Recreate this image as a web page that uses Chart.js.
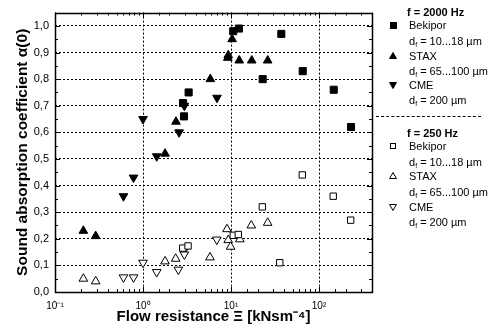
<!DOCTYPE html>
<html>
<head>
<meta charset="utf-8">
<script src="https://cdn.jsdelivr.net/npm/chart.js@4"></script>
<style>
  body { margin: 0; background: #fff; }
  #wrap { position: relative; width: 499px; height: 329px; font-family: "Liberation Sans", Arial, sans-serif; }
  #legend { position: absolute; left: 0; top: 0; width: 499px; height: 329px; pointer-events: none; }
  .row { position: absolute; left: 409px; font-size: 11px; line-height: 12px; color: #000; white-space: nowrap; transform: translateY(-50%); }
  .row.head { left: 407px; font-weight: bold; }
  .row sub { font-size: 7px; vertical-align: -2px; line-height: 0; }
  .mk { position: absolute; left: 393px; }
  .sq { width: 7px; height: 7px; margin: -3.5px 0 0 -3.5px; box-sizing: border-box; border: 1px solid #000; }
  .sq.fill { background: #000; }
  .sq.open { background: #fff; width: 6px; height: 6px; margin: -3px 0 0 -3px; }
  .hr { position: absolute; left: 376px; width: 105px; border-top: 1px dashed #000; }
</style>
</head>
<body>
<div id="wrap">
  <canvas id="chart" width="499" height="329"></canvas>
  <div id="legend"></div>
</div>
<script>
// DATA

// f = 2000 Hz
const bekipor2000X = [2.85, 2.92, 3.3, 10.6, 12.3, 22.9, 37.3, 65.3, 147, 231];
const bekipor2000Y = [0.71, 0.66, 0.75, 0.98, 0.99, 0.80, 0.97, 0.83, 0.76, 0.62];
const stax2000X = [0.21, 0.29, 1.78, 2.37, 5.82, 9.2, 9.3, 10.3, 12.4, 17.2, 26.1];
const stax2000Y = [0.23, 0.21, 0.52, 0.64, 0.80, 0.88, 0.89, 0.95, 0.87, 0.87, 0.87];
const cme2000X = [0.60, 0.78, 1.0, 1.43, 2.57, 2.95, 6.93];
const cme2000Y = [0.36, 0.43, 0.65, 0.51, 0.60, 0.70, 0.73];

// f = 250 Hz
const bekipor250X = [2.83, 3.25, 10.6, 12.1, 22.7, 35.8, 64.6, 145, 229];
const bekipor250Y = [0.165, 0.173, 0.213, 0.216, 0.32, 0.11, 0.44, 0.36, 0.27];
const stax250X = [0.21, 0.29, 1.78, 2.35, 5.77, 9.0, 9.3, 9.9, 12.6, 17.0, 26.1];
const stax250Y = [0.05, 0.04, 0.115, 0.125, 0.13, 0.236, 0.195, 0.17, 0.198, 0.25, 0.26];
const cme250X = [0.60, 0.78, 1.0, 1.43, 2.52, 2.9, 2.95, 6.9];
const cme250Y = [0.055, 0.055, 0.11, 0.075, 0.084, 0.153, 0.141, 0.197];

// axis texts
const yTitle = 'Sound absorption coefficient \u03B1(0)';
const xTitle = 'Flow resistance \u039E [kNsm\u207B\u2074]';
const supDigits = { '-': '\u207B', '0': '\u2070', '1': '\u00B9', '2': '\u00B2', '3': '\u00B3' };

function toPoints(xs, ys) {
  return xs.map((x, i) => ({ x: x, y: ys[i] }));
}

function isDecade(v) {
  const l = Math.log10(v);
  return Math.abs(l - Math.round(l)) < 1e-9;
}

function filledSet(label, xs, ys, style, rot, r) {
  return {
    label: label, data: toPoints(xs, ys),
    pointStyle: style, rotation: rot, pointRadius: r,
    backgroundColor: '#000', borderColor: '#000', borderWidth: 1
  };
}

function openSet(label, xs, ys, style, rot, r) {
  return {
    label: label, data: toPoints(xs, ys),
    pointStyle: style, rotation: rot, pointRadius: r,
    backgroundColor: '#fff', borderColor: '#000', borderWidth: 1
  };
}

// box around the plot + inward tick marks
const frameTicks = {
  id: 'frameTicks',
  afterDraw(chart) {
    const { ctx, chartArea: a, scales: { x, y } } = chart;
    ctx.save();
    ctx.strokeStyle = '#000';
    ctx.lineWidth = 1;
    ctx.beginPath();
    x.ticks.forEach(t => {
      const px = Math.round(x.getPixelForValue(t.value)) + 0.5;
      const len = isDecade(t.value) ? 5 : 3;
      ctx.moveTo(px, a.bottom); ctx.lineTo(px, a.bottom - len);
      ctx.moveTo(px, a.top); ctx.lineTo(px, a.top + len);
    });
    for (let i = 0; i <= 21; i++) {
      const py = Math.round(y.getPixelForValue(i * 0.05)) + 0.5;
      const len = i % 2 === 0 ? 5 : 3;
      ctx.moveTo(a.left, py); ctx.lineTo(a.left + len, py);
      ctx.moveTo(a.right, py); ctx.lineTo(a.right - len, py);
    }
    ctx.stroke();
    ctx.lineWidth = 1.5;
    ctx.strokeRect(Math.round(a.left) + 0.5, Math.round(a.top) + 0.5,
      Math.round(a.right - a.left), Math.round(a.bottom - a.top));
    ctx.restore();
  }
};

const ctx = document.getElementById('chart').getContext('2d');
new Chart(ctx, {
  type: 'scatter',
  data: {
    datasets: [
      filledSet('Bekipor 2000 Hz', bekipor2000X, bekipor2000Y, 'rect', 0, 5),
      filledSet('STAX 2000 Hz', stax2000X, stax2000Y, 'triangle', 0, 5),
      filledSet('CME 2000 Hz', cme2000X, cme2000Y, 'triangle', 180, 5),
      openSet('Bekipor 250 Hz', bekipor250X, bekipor250Y, 'rect', 0, 4.5),
      openSet('STAX 250 Hz', stax250X, stax250Y, 'triangle', 0, 5),
      openSet('CME 250 Hz', cme250X, cme250Y, 'triangle', 180, 5)
    ]
  },
  options: {
    responsive: false,
    animation: false,
    layout: { padding: { top: 3, right: 127, left: 0, bottom: 0 } },
    plugins: { legend: { display: false }, tooltip: { enabled: false } },
    scales: {
      x: {
        type: 'logarithmic',
        min: 0.1, max: 400,
        afterFit: s => { s.height = 37; },
        border: { display: false, dash: [2, 2] },
        grid: {
          drawTicks: false,
          color: c => (c.tick && isDecade(c.tick.value) ? '#000' : 'rgba(0,0,0,0)'),
          lineWidth: 1
        },
        ticks: {
          autoSkip: false, maxRotation: 0, padding: 8, color: '#000',
          font: { family: '"Liberation Sans", Arial, sans-serif', size: 10 },
          callback: v => {
            if (!isDecade(v)) return '';
            const e = String(Math.round(Math.log10(v)));
            return '10' + e.split('').map(ch => supDigits[ch]).join('');
          }
        },
        title: {
          display: true, text: xTitle, color: '#000',
          padding: { top: 0, bottom: 3 },
          font: { family: '"Liberation Sans", Arial, sans-serif', size: 15, weight: 'bold', lineHeight: 1.2 }
        }
      },
      y: {
        min: 0, max: 1.05,
        afterFit: s => { s.width = 55; },
        border: { display: false, dash: [2, 2] },
        grid: { drawTicks: false, color: '#000', lineWidth: 1 },
        ticks: {
          stepSize: 0.1, includeBounds: false, padding: 6, color: '#000',
          font: { family: '"Liberation Sans", Arial, sans-serif', size: 11 },
          callback: v => v.toFixed(1).replace('.', ',')
        },
        title: {
          display: true, text: yTitle, color: '#000',
          padding: { top: 13, bottom: 0 },
          font: { family: '"Liberation Sans", Arial, sans-serif', size: 15.5, weight: 'bold', lineHeight: 1.2 }
        }
      }
    }
  },
  plugins: [frameTicks]
});

// LEGEND (two frequency groups, drawn as html text)
const legendRows = [
  { y: 12, head: 'f = 2000 Hz' },
  { y: 25, mark: 'sq fill', text: 'Bekipor' },
  { y: 41, text: 'd<sub>f</sub> = 10...18 \u00B5m' },
  { y: 55.5, mark: 'up fill', text: 'STAX' },
  { y: 71, text: 'd<sub>f</sub> = 65...100 \u00B5m' },
  { y: 85, mark: 'down fill', text: 'CME' },
  { y: 100, text: 'd<sub>f</sub> = 200 \u00B5m' },
  { y: 132.5, head: 'f = 250 Hz' },
  { y: 146, mark: 'sq open', text: 'Bekipor' },
  { y: 162, text: 'd<sub>f</sub> = 10...18 \u00B5m' },
  { y: 175.5, mark: 'up open', text: 'STAX' },
  { y: 192, text: 'd<sub>f</sub> = 65...100 \u00B5m' },
  { y: 206.5, mark: 'down open', text: 'CME' },
  { y: 221.5, text: 'd<sub>f</sub> = 200 \u00B5m' }
];

const legend = document.getElementById('legend');
legendRows.forEach(r => {
  const row = document.createElement('div');
  row.className = r.head ? 'row head' : 'row';
  row.style.top = r.y + 'px';
  row.innerHTML = r.head || r.text;
  legend.appendChild(row);
  if (!r.mark) return;
  if (r.mark.startsWith('sq')) {
    const m = document.createElement('div');
    m.className = 'mk ' + r.mark;
    m.style.top = r.y + 'px';
    legend.appendChild(m);
  } else {
    // small canvas triangle so it matches the plot markers
    const c = document.createElement('canvas');
    c.width = 10; c.height = 10;
    c.className = 'mk';
    c.style.left = '388px';
    c.style.top = (r.y - 5) + 'px';
    legend.appendChild(c);
    const g = c.getContext('2d');
    const up = r.mark.startsWith('up');
    g.fillStyle = r.mark.endsWith('fill') ? '#000' : '#fff';
    g.strokeStyle = '#000';
    Chart.helpers.drawPoint(g, {
      pointStyle: 'triangle', rotation: up ? 0 : 180, radius: 4,
      borderWidth: 1
    }, 5, up ? 5.5 : 4.5);
  }
});
const hr = document.createElement('div');
hr.className = 'hr';
hr.style.top = '116px';
legend.appendChild(hr);
</script>
</body>
</html>
